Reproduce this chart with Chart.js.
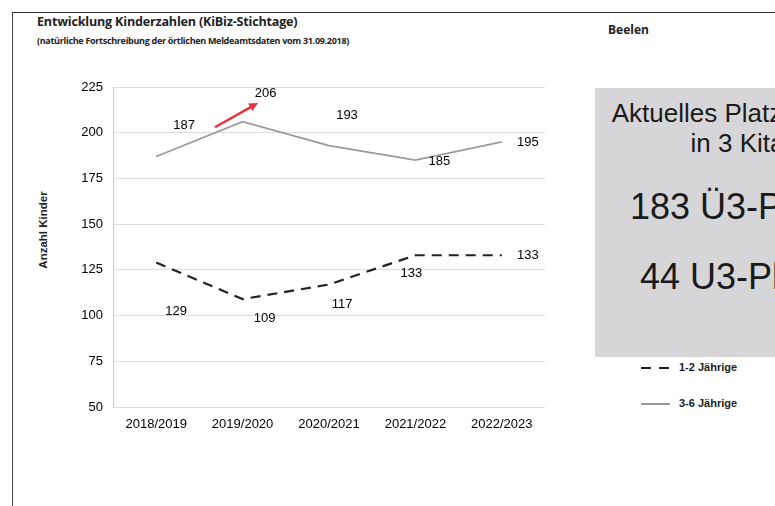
<!DOCTYPE html>
<html lang="de">
<head>
<meta charset="UTF-8">
<title>Entwicklung Kinderzahlen</title>
<script src="https://cdn.jsdelivr.net/npm/chart.js"></script>
<style>
    html, body { margin: 0; padding: 0; }
    body { width: 775px; height: 506px; overflow: hidden; position: relative; background: #fff; font-family: 'Liberation Sans', Arial, sans-serif; color: #111; }
    .frame-top { position: absolute; left: 12px; top: 12px; width: 770px; height: 0; border-top: 1.5px solid #333; }
    .frame-left { position: absolute; left: 12px; top: 12px; width: 0; height: 500px; border-left: 1.5px solid #444; }
    .title { position: absolute; left: 37px; top: 13px; font-family: 'Open Sans', sans-serif; font-weight: 700; font-size: 12.6px; letter-spacing: -0.2px; color: #222; white-space: nowrap; }
    .subtitle { position: absolute; left: 37px; top: 34px; font-family: 'Open Sans', sans-serif; font-weight: 700; font-size: 9px; letter-spacing: -0.3px; color: #222; white-space: nowrap; }
    .place { position: absolute; left: 608px; top: 21px; font-family: 'Open Sans', sans-serif; font-weight: 700; font-size: 12px; color: #222; }
    .ytitle { position: absolute; left: 43px; top: 230px; transform: translate(-50%, -50%) rotate(-90deg); font-weight: 700; font-size: 11.5px; white-space: nowrap; color: #222; }
    #wrap { position: absolute; left: 0; top: 0; width: 560px; height: 445px; }
    .box { position: absolute; left: 595px; top: 88px; width: 300px; height: 269px; background: #d6d6d8; }
    .box div { position: absolute; left: 0; width: 298px; text-align: center; white-space: nowrap; font-family: 'Liberation Sans', Arial, sans-serif; color: #1a1a1a; }
    .legend { position: absolute; left: 641px; font-size: 11px; font-weight: 700; color: #222; white-space: nowrap; }
    .legend span.l { display: inline-block; width: 29px; vertical-align: middle; margin-right: 9px; }
    .legend span.dash { height: 2px; background: linear-gradient(to right, #222 0 10px, transparent 10px 18px, #222 18px 28px, transparent 28px); }
    .legend span.solid { height: 1.5px; background: #999; }
</style>
</head>
<body>
<div class="frame-top"></div>
<div class="frame-left"></div>
<div class="title">Entwicklung Kinderzahlen (KiBiz-Stichtage)</div>
<div class="subtitle">(natürliche Fortschreibung der örtlichen Meldeamtsdaten vom 31.09.2018)</div>
<div class="place">Beelen</div>
<div class="ytitle">Anzahl Kinder</div>
<div id="wrap"><canvas id="kidsChart"></canvas></div>

<div class="box">
    <div style="top: 10px; font-size: 26px; line-height: 30px;">Aktuelles Platzangebot<br>in 3 Kitas</div>
    <div style="top: 99px; font-size: 36px; line-height: 40px;">183 Ü3-Plätze</div>
    <div style="top: 169px; font-size: 36px; line-height: 40px;">44 U3-Plätze</div>
</div>

<div class="legend" style="top: 361px;"><span class="l dash"></span>1-2 Jährige</div>
<div class="legend" style="top: 397px;"><span class="l solid"></span>3-6 Jährige</div>

<script>
// Kita-Jahre und Kinderzahlen
const years = ['2018/2019', '2019/2020', '2020/2021', '2021/2022', '2022/2023'];
const kids1to2 = [129, 109, 117, 133, 133];
const kids3to6 = [187, 206, 193, 185, 195];
const yMin = 50;
const yMax = 225;
const yStep = 25;

// labels sit where they were placed by hand in the original
const labelShift = {
    0: [[20, 49], [22, 19], [13, 20], [-4, 18], [26, 0]],
    1: [[28, -31], [23, -28], [18, -30], [24, 1], [26, 1]]
};

const valueLabels = {
    id: 'valueLabels',
    afterDatasetsDraw(chart) {
        const ctx = chart.ctx;
        ctx.save();
        ctx.font = '13px "Liberation Sans", Arial, sans-serif';
        ctx.fillStyle = '#000';
        ctx.textAlign = 'center';
        ctx.textBaseline = 'middle';
        chart.data.datasets.forEach((ds, i) => {
            chart.getDatasetMeta(i).data.forEach((pt, j) => {
                const s = labelShift[i][j];
                ctx.fillText(ds.data[j], pt.x + s[0], pt.y + s[1]);
            });
        });

        // red arrow towards the 2019/2020 peak
        const xs = chart.scales.x, ys = chart.scales.y;
        const x1 = xs.getPixelForValue(0.68), y1 = ys.getPixelForValue(203);
        const x2 = xs.getPixelForValue(1.18), y2 = ys.getPixelForValue(216.3);
        const a = Math.atan2(y2 - y1, x2 - x1);
        ctx.strokeStyle = '#e8323c';
        ctx.fillStyle = '#e8323c';
        ctx.lineWidth = 2.5;
        ctx.beginPath();
        ctx.moveTo(x1, y1);
        ctx.lineTo(x2 - 6 * Math.cos(a), y2 - 6 * Math.sin(a));
        ctx.stroke();
        ctx.beginPath();
        ctx.moveTo(x2, y2);
        ctx.lineTo(x2 - 10 * Math.cos(a - 0.45), y2 - 10 * Math.sin(a - 0.45));
        ctx.lineTo(x2 - 10 * Math.cos(a + 0.45), y2 - 10 * Math.sin(a + 0.45));
        ctx.closePath();
        ctx.fill();
        ctx.restore();
    }
};

new Chart(document.getElementById('kidsChart'), {
    type: 'line',
    data: {
        labels: years,
        datasets: [{
            label: '1-2 Jährige',
            data: kids1to2,
            borderColor: '#222',
            borderWidth: 2.2,
            borderDash: [10, 7],
            pointRadius: 0,
            tension: 0,
            fill: false
        }, {
            label: '3-6 Jährige',
            data: kids3to6,
            borderColor: '#9a9a9a',
            borderWidth: 1.8,
            pointRadius: 0,
            tension: 0,
            fill: false
        }]
    },
    options: {
        responsive: true,
        maintainAspectRatio: false,
        animation: false,
        layout: { padding: { left: 0, top: 87, right: 15, bottom: 8 } },
        plugins: { legend: { display: false }, tooltip: { enabled: false } },
        scales: {
            x: {
                offset: true,
                grid: { display: false, drawTicks: false },
                border: { display: false },
                ticks: { padding: 10, color: '#000', font: { family: "'Liberation Sans', Arial, sans-serif", size: 13 } },
                afterFit: s => { s.height = 30; }
            },
            y: {
                min: yMin,
                max: yMax,
                ticks: { stepSize: yStep, padding: 10, color: '#000', font: { family: "'Liberation Sans', Arial, sans-serif", size: 13 } },
                grid: { color: '#dcdcdc', drawTicks: false },
                border: { color: '#cfcfcf' },
                afterFit: s => { s.width = 113; }
            }
        }
    },
    plugins: [valueLabels]
});
</script>
</body>
</html>
